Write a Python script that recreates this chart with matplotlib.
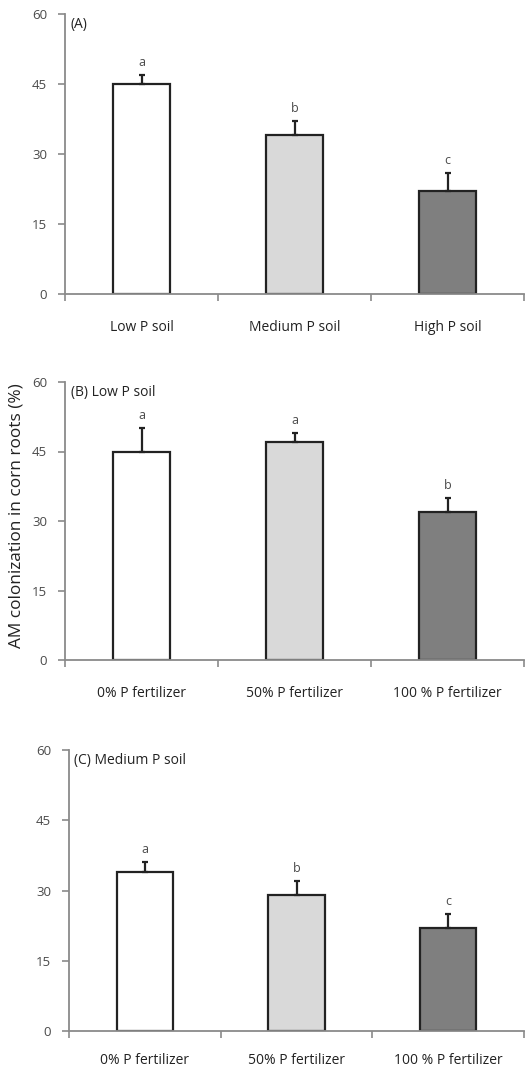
import matplotlib
matplotlib.use("Agg")
import matplotlib.pyplot as plt
import numpy as np

plt.rcParams['font.family'] = ['Open Sans', 'DejaVu Sans']

# panel A: soil P level
soil_labels = ["Low P soil", "Medium P soil", "High P soil"]
soil_means = [45, 34, 22]
soil_err = [2, 3, 4]
soil_letters = ["a", "b", "c"]

# panel B: low P soil, fertilizer rates
fert_labels = ["0% P fertilizer", "50% P fertilizer", "100 % P fertilizer"]
low_means = [45, 47, 32]
low_err = [5, 2, 3]
low_letters = ["a", "a", "b"]

# panel C: medium P soil, fertilizer rates
med_means = [34, 29, 22]
med_err = [2, 3, 3]
med_letters = ["a", "b", "c"]

bar_colors = ["#ffffff", "#d9d9d9", "#7f7f7f"]
axis_col = "#8a8a8a"
text_col = "#4a4a4a"

fig = plt.figure(figsize=(5.25, 10.7), dpi=100)

panels = [
    ([65/525, 1 - 294/1070, 459/525, 280/1070], soil_labels, soil_means, soil_err, soil_letters, "(A)", 19),
    ([65/525, 1 - 660/1070, 459/525, 278/1070], fert_labels, low_means, low_err, low_letters, "(B) Low P soil", 19),
    ([69/525, 1 - 1031/1070, 455/525, 281/1070], fert_labels, med_means, med_err, med_letters, "(C) Medium P soil", 16),
]

for rect, labels, means, err, letters, title, lpad in panels:
    ax = fig.add_axes(rect)
    x = np.arange(len(means))
    ax.bar(x, means, width=0.37, color=bar_colors, edgecolor="#222222",
           linewidth=1.6, zorder=2)
    ax.errorbar(x, means, yerr=[np.zeros(len(err)), err], fmt="none",
                ecolor="#222222", elinewidth=1.6, capsize=2.3, capthick=1.6,
                zorder=3)
    for xi, m, e, let in zip(x, means, err, letters):
        ax.text(xi, m + e + 1.3, let, ha="center", va="bottom",
                fontsize=9, color=text_col)
    ax.text(0.012, 0.99, title, transform=ax.transAxes, ha="left", va="top",
            fontsize=10, color="#222222")

    ax.set_xlim(-0.5, 2.5)
    ax.set_ylim(0, 60)
    ax.set_yticks([0, 15, 30, 45, 60])
    ax.set_xticks(x)
    ax.set_xticklabels(labels, fontsize=10, color="#222222")
    ax.set_xticks([-0.5, 0.5, 1.5, 2.5], minor=True)
    ax.tick_params(axis="x", which="major", length=0, pad=lpad)
    ax.tick_params(axis="x", which="minor", length=5, color=axis_col, width=1.2,
                   direction="out")
    ax.tick_params(axis="y", length=5, color=axis_col, width=1.2,
                   labelsize=9.5, labelcolor=text_col, pad=8)
    for s in ["top", "right"]:
        ax.spines[s].set_visible(False)
    for s in ["left", "bottom"]:
        ax.spines[s].set_color(axis_col)
        ax.spines[s].set_linewidth(1.3)

fig.text(17/525, 1 - 516/1070, "AM colonization in corn roots (%)",
         rotation=90, ha="center", va="center", fontsize=12.4, color="#222222")

fig.savefig("out.png", dpi=100)
